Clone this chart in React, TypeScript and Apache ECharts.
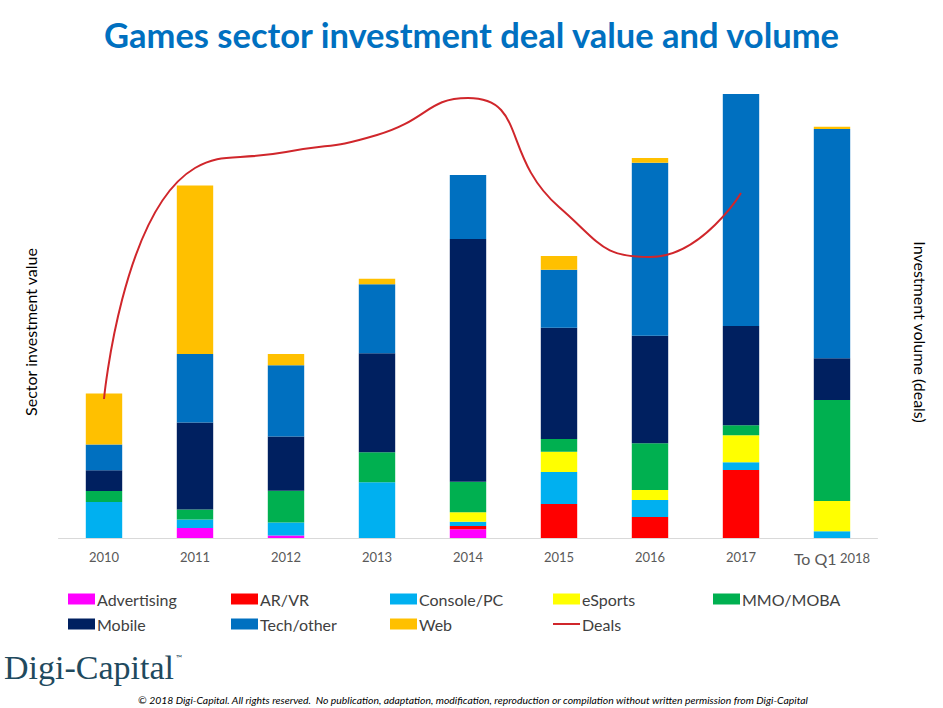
import React, { useEffect, useRef } from "react";
import * as echarts from "echarts";

const categories = ["2010", "2011", "2012", "2013", "2014", "2015", "2016", "2017", "To Q1 2018"];

const advertising = [0, 10, 2.5, 0, 8.7, 0, 0, 0, 0];
const arvr = [0, 0, 0, 0, 3.3, 34, 21, 68, 0];
const consolePc = [36, 8.4, 13, 55.7, 4.3, 32, 17, 7.7, 6.7];
const esports = [0, 0, 0, 0, 9.4, 20.3, 10, 27, 30.3];
const mmoMoba = [11, 10, 31.7, 30, 30.6, 12.7, 46.7, 10, 101];
const mobile = [20.7, 87, 54.3, 99, 242.7, 111.3, 107.6, 99.3, 41.7];
const techOther = [25.7, 68.7, 71.3, 69, 64, 58, 173, 232, 229.3];
const web = [51, 168.3, 11.3, 5.6, 0, 13.7, 4.7, 0, 2.3];
const deals = [139, 370, 386, 403, 440, 331, 281, 345];

const barSeries = [
  { name: "Advertising", data: advertising, color: "#ff00ff" },
  { name: "AR/VR", data: arvr, color: "#ff0000" },
  { name: "Console/PC", data: consolePc, color: "#00b0f0" },
  { name: "eSports", data: esports, color: "#ffff00" },
  { name: "MMO/MOBA", data: mmoMoba, color: "#00b050" },
  { name: "Mobile", data: mobile, color: "#002060" },
  { name: "Tech/other", data: techOther, color: "#0070c0" },
  { name: "Web", data: web, color: "#ffc000" },
];

const legendPos: [string, number, number][] = [
  ["Advertising", 68, 591],
  ["AR/VR", 231, 591],
  ["Console/PC", 390, 591],
  ["eSports", 553, 591],
  ["MMO/MOBA", 713, 591],
  ["Mobile", 68, 616],
  ["Tech/other", 231, 616],
  ["Web", 390, 616],
];

const FONT = "Lato, 'Open Sans', sans-serif";
const LINE_COLOR = "#d0262b";

export default function App() {
  const ref = useRef<HTMLDivElement>(null);
  useEffect(() => {
    if (!ref.current) return;
    const chart = echarts.init(ref.current, null, { renderer: "svg" });
    const legendText = { fontSize: 16, color: "#404040", fontFamily: FONT, padding: [0, 0, 0, -3] };
    const option: any = {
      animation: false,
      backgroundColor: "#ffffff",
      title: {
        text: "Games sector investment deal value and volume",
        left: "center",
        top: 12,
        textStyle: { fontSize: 34.5, fontWeight: "bold", color: "#0070c0", fontFamily: FONT },
      },
      legend: [
        ...legendPos.map(([name, left, top]) => ({
          data: [{ name, icon: "rect" }],
          left,
          top,
          padding: 0,
          itemWidth: 27,
          itemHeight: 11,
          itemGap: 2,
          selectedMode: false,
          textStyle: legendText,
        })),
        {
          data: [{ name: "Deals", icon: "rect" }],
          left: 553,
          top: 616,
          padding: 0,
          itemWidth: 27,
          itemHeight: 2,
          selectedMode: false,
          itemStyle: { color: LINE_COLOR },
          textStyle: legendText,
        },
      ],
      grid: { left: 58.5, right: 65.5, top: 88, bottom: 170 },
      xAxis: {
        type: "category",
        data: categories,
        axisLine: { lineStyle: { color: "#d9d9d9", width: 1 } },
        axisTick: { show: false },
        axisLabel: {
          interval: 0,
          color: "#595959",
          fontSize: 13,
          fontFamily: FONT,
          margin: 12,
          formatter: (v: string) => (v.startsWith("To Q1") ? "{b|To Q1} 2018" : v),
          rich: { b: { fontSize: 16, color: "#595959", fontFamily: FONT } },
        },
      },
      yAxis: [
        { type: "value", min: 0, max: 450, show: false, splitLine: { show: false } },
        { type: "value", min: 0, max: 450, show: false, splitLine: { show: false } },
      ],
      series: [
        ...barSeries.map((s) => ({
          name: s.name,
          type: "bar",
          stack: "total",
          barWidth: "40%",
          data: s.data,
          itemStyle: { color: s.color },
        })),
        {
          name: "Deals",
          type: "line",
          yAxisIndex: 1,
          data: deals,
          smooth: 0.55,
          symbol: "none",
          lineStyle: { color: LINE_COLOR, width: 2 },
          itemStyle: { color: LINE_COLOR },
        },
      ],
      graphic: [
        {
          type: "text",
          x: 30,
          y: 332,
          rotation: Math.PI / 2,
          style: {
            text: "Sector investment value",
            fontSize: 16,
            fontFamily: FONT,
            fill: "#000000",
            textAlign: "center",
            textVerticalAlign: "middle",
          },
        },
        {
          type: "text",
          x: 920,
          y: 332,
          rotation: -Math.PI / 2,
          style: {
            text: "Investment volume (deals)",
            fontSize: 16,
            fontFamily: FONT,
            fill: "#000000",
            textAlign: "center",
            textVerticalAlign: "middle",
          },
        },
        {
          type: "text",
          x: 4,
          y: 650,
          style: {
            text: "Digi-Capital",
            fontSize: 34,
            fontFamily: "'Liberation Serif', serif",
            fill: "#1f4a5e",
          },
        },
        {
          type: "text",
          x: 176,
          y: 654,
          style: {
            text: "™",
            fontSize: 8,
            fontFamily: FONT,
            fill: "#1f4a5e",
          },
        },
        {
          type: "text",
          x: 473,
          y: 700,
          style: {
            text:
              "© 2018 Digi-Capital. All rights reserved.  No publication, adaptation, modification, reproduction or compilation without written permission from Digi-Capital",
            fontSize: 10.4,
            fontStyle: "italic",
            fontFamily: FONT,
            fill: "#000000",
            textAlign: "center",
            textVerticalAlign: "middle",
          },
        },
      ],
    };
    chart.setOption(option);
    return () => chart.dispose();
  }, []);
  return (
    <div
      ref={ref}
      style={{ position: "fixed", left: 0, top: 0, width: 943, height: 708 }}
    />
  );
}
